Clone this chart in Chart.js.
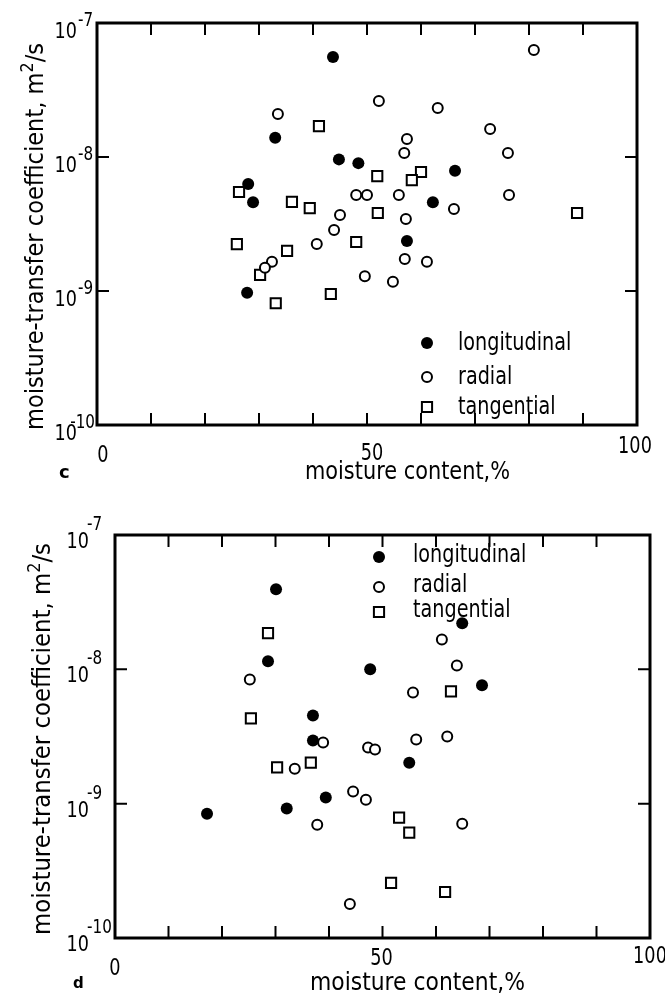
<!DOCTYPE html>
<html lang="en">
<head>
<meta charset="UTF-8">
<title>moisture-transfer coefficient vs moisture content</title>
<script src="https://cdn.jsdelivr.net/npm/chart.js"></script>
<style>
    body { margin: 0; background: #fff; }
    #wrap { position: relative; width: 665px; height: 999px; }
    canvas { position: absolute; left: 0; }
</style>
</head>
<body>
<div id="wrap">
    <canvas id="chartC" width="665" height="495" style="top:0"></canvas>
    <canvas id="chartD" width="665" height="504" style="top:495px"></canvas>
</div>
<script>
// panel c
const cLongX = [43.7, 33.0, 44.8, 48.4, 28.0, 28.9, 66.3, 62.2, 57.4, 27.8];
const cLongY = [5.57e-8, 1.39e-8, 9.6e-9, 9.0e-9, 6.3e-9, 4.6e-9, 7.9e-9, 4.6e-9, 2.36e-9, 9.7e-10];
const cRadX = [33.5, 52.2, 63.1, 80.9, 72.8, 57.4, 56.9, 76.1, 48.0, 50.0, 55.9, 76.3,
               45.0, 66.1, 57.2, 43.9, 40.7, 32.4, 31.1, 57.0, 61.1, 49.6, 54.8];
const cRadY = [2.09e-8, 2.62e-8, 2.32e-8, 6.29e-8, 1.62e-8, 1.36e-8, 1.07e-8, 1.07e-8, 5.2e-9, 5.2e-9, 5.2e-9, 5.2e-9,
               3.69e-9, 4.09e-9, 3.45e-9, 2.85e-9, 2.24e-9, 1.65e-9, 1.49e-9, 1.73e-9, 1.65e-9, 1.29e-9, 1.17e-9];
const cTanX = [26.3, 41.1, 36.1, 39.4, 25.9, 35.2, 30.2, 33.1, 43.3, 51.9, 60.0, 58.3, 52.0, 88.9, 48.0];
const cTanY = [5.48e-9, 1.70e-8, 4.62e-9, 4.16e-9, 2.24e-9, 1.99e-9, 1.32e-9, 8.1e-10, 9.5e-10,
               7.21e-9, 7.73e-9, 6.73e-9, 3.82e-9, 3.82e-9, 2.32e-9];

// panel d
const dLongX = [30.1, 28.6, 37.0, 37.0, 39.4, 32.1, 17.2, 55.0, 64.9, 47.7, 68.6];
const dLongY = [3.95e-8, 1.15e-8, 4.54e-9, 2.95e-9, 1.11e-9, 9.2e-10, 8.4e-10, 2.02e-9, 2.2e-8, 1.0e-8, 7.6e-9];
const dRadX = [25.2, 38.9, 33.6, 37.8, 47.3, 48.6, 56.3, 62.1, 44.5, 46.9, 64.9, 43.9, 61.1, 63.9, 55.7];
const dRadY = [8.4e-9, 2.85e-9, 1.82e-9, 6.97e-10, 2.62e-9, 2.53e-9, 3.0e-9, 3.16e-9, 1.23e-9, 1.07e-9,
               7.1e-10, 1.79e-10, 1.67e-8, 1.07e-8, 6.73e-9];
const dTanX = [28.6, 25.4, 30.3, 36.6, 53.1, 55.0, 51.6, 61.7, 62.8];
const dTanY = [1.86e-8, 4.31e-9, 1.86e-9, 2.02e-9, 7.87e-10, 6.08e-10, 2.57e-10, 2.2e-10, 6.85e-9];

// axes
const seriesNames = ['longitudinal', 'radial', 'tangential'];
const xTickVals = [10, 20, 30, 40, 50, 60, 70, 80, 90];
const xLabelVals = [0, 50, 100];
const yDecades = [-10, -9, -8, -7];
const yInnerTicks = [-9, -8];
const xTitle = 'moisture content,%';
const yTitle = 'moisture-transfer coefficient, m';

const FONT = '"DejaVu Sans", "Liberation Sans", sans-serif';

function pts(xs, ys) { return xs.map((x, i) => ({ x: x, y: ys[i] })); }

// text with horizontal squeeze (reference lettering is narrow)
function drawText(ctx, s, x, y, size, o) {
    o = o || {};
    ctx.save();
    ctx.font = (o.weight || 'normal') + ' ' + size + 'px ' + FONT;
    const w = ctx.measureText(s).width;
    const sx = o.width ? o.width / w : (o.sx || 1);
    ctx.translate(x, y);
    ctx.scale(sx, 1);
    let dx = 0;
    if (o.align === 'center') dx = -w / 2;
    if (o.align === 'right') dx = -w;
    ctx.fillStyle = '#000';
    ctx.textBaseline = 'alphabetic';
    ctx.fillText(s, dx, 0);
    ctx.restore();
    return w * sx;
}

function framePlugin(L) {
    return {
        id: 'frame',
        afterDatasetsDraw(chart) {
            const ctx = chart.ctx;
            const a = chart.chartArea;
            const xs = chart.scales.x, ys = chart.scales.y;
            ctx.save();
            ctx.strokeStyle = '#000';
            ctx.lineWidth = 3;
            ctx.strokeRect(a.left, a.top, a.right - a.left, a.bottom - a.top);

            // inward ticks
            ctx.lineWidth = 2;
            ctx.beginPath();
            xTickVals.forEach(v => {
                const px = xs.getPixelForValue(v);
                ctx.moveTo(px, a.bottom); ctx.lineTo(px, a.bottom - 12);
                ctx.moveTo(px, a.top); ctx.lineTo(px, a.top + 12);
            });
            yInnerTicks.forEach(e => {
                const py = ys.getPixelForValue(Math.pow(10, e));
                ctx.moveTo(a.left, py); ctx.lineTo(a.left + 12, py);
                ctx.moveTo(a.right, py); ctx.lineTo(a.right - 12, py);
            });
            ctx.stroke();

            // y labels 10^n
            yDecades.forEach(e => {
                const py = ys.getPixelForValue(Math.pow(10, e));
                const tenRight = a.left + L.yLab.dx;
                const w = drawText(ctx, '10', tenRight, py + L.yLab.base, 22, { align: 'right', sx: 0.8 });
                ctx.save();
                ctx.font = '19px ' + FONT;
                const sw = ctx.measureText(String(e)).width * 0.8;
                ctx.restore();
                const sxp = Math.min(tenRight + L.yLab.supDx, a.left - 2 - sw);
                drawText(ctx, '-' + Math.abs(e), sxp, py + L.yLab.sup, 19, { sx: 0.8 });
            });

            // x labels
            xLabelVals.forEach((v, i) => {
                const px = xs.getPixelForValue(v) + L.xLab.nudge[i];
                drawText(ctx, String(v), px, a.bottom + L.xLab.base[i], 23, { align: 'center', sx: 0.77 });
            });

            // x title
            drawText(ctx, xTitle, L.xTitle.x1, L.xTitle.base, 24, { width: L.xTitle.x2 - L.xTitle.x1 });

            // y title, rotated, with superscript 2
            ctx.save();
            ctx.translate(L.yTitle.x, L.yTitle.y1);
            ctx.rotate(-Math.PI / 2);
            ctx.font = '24px ' + FONT;
            const w1 = ctx.measureText(yTitle).width;
            const w3 = ctx.measureText('/s').width;
            ctx.font = '17px ' + FONT;
            const w2 = ctx.measureText('2').width;
            const k = (L.yTitle.y1 - L.yTitle.y2) / (w1 + w2 + w3);
            ctx.scale(k, 1);
            ctx.fillStyle = '#000';
            ctx.font = '24px ' + FONT;
            ctx.fillText(yTitle, 0, 0);
            ctx.font = '17px ' + FONT;
            ctx.fillText('2', w1, -10);
            ctx.font = '24px ' + FONT;
            ctx.fillText('/s', w1 + w2, 0);
            ctx.restore();

            // legend from datasets
            chart.data.datasets.forEach((ds, i) => {
                const y = L.legend.ys[i];
                ctx.save();
                ctx.fillStyle = ds.backgroundColor;
                ctx.strokeStyle = ds.borderColor;
                ctx.lineWidth = ds.borderWidth;
                Chart.helpers.drawPoint(ctx, {
                    pointStyle: ds.pointStyle, radius: ds.pointRadius,
                    borderWidth: ds.borderWidth, rotation: 0
                }, L.legend.sx, y);
                ctx.restore();
                drawText(ctx, ds.label, L.legend.tx, y + L.legend.tdy, 24, { sx: 0.8 });
            });

            // panel letter
            drawText(ctx, L.letter.s, L.letter.x, L.letter.y, L.letter.size, { weight: 'bold' });
            ctx.restore();
        }
    };
}

function makePanel(id, lx, ly, rx, ry, tx, ty, L) {
    const ctx = document.getElementById(id).getContext('2d');
    return new Chart(ctx, {
        type: 'scatter',
        data: {
            datasets: [
                { label: seriesNames[0], data: pts(lx, ly), pointStyle: 'circle', pointRadius: 6,
                  backgroundColor: '#000', borderColor: '#000', borderWidth: 0 },
                { label: seriesNames[1], data: pts(rx, ry), pointStyle: 'circle', pointRadius: 5,
                  backgroundColor: '#fff', borderColor: '#000', borderWidth: 2 },
                { label: seriesNames[2], data: pts(tx, ty), pointStyle: 'rect', pointRadius: 7.2,
                  backgroundColor: '#fff', borderColor: '#000', borderWidth: 2 }
            ]
        },
        options: {
            responsive: false,
            animation: false,
            events: [],
            devicePixelRatio: 1,
            layout: { padding: L.pad },
            scales: {
                x: { type: 'linear', min: 0, max: 100, display: false },
                y: { type: 'logarithmic', min: 1e-10, max: 1e-7, display: false }
            },
            plugins: { legend: { display: false }, tooltip: { enabled: false } }
        },
        plugins: [framePlugin(L)]
    });
}

makePanel('chartC', cLongX, cLongY, cRadX, cRadY, cTanX, cTanY, {
    pad: { left: 97, top: 23, right: 28, bottom: 70 },
    yLab: { dx: -20, base: 15, sup: 3, supDx: 1 },
    xLab: { nudge: [6, 5, -2], base: [37, 35, 28] },
    xTitle: { x1: 305, x2: 510, base: 479 },
    yTitle: { x: 43, y1: 430, y2: 43 },
    legend: { sx: 427, tx: 458, ys: [343, 377, 407], tdy: 7 },
    letter: { s: 'c', x: 59, y: 478, size: 18 }
});

makePanel('chartD', dLongX, dLongY, dRadX, dRadY, dTanX, dTanY, {
    pad: { left: 115, top: 40, right: 15, bottom: 61 },
    yLab: { dx: -26, base: 13, sup: -5, supDx: -2 },
    xLab: { nudge: [0, -1, 0], base: [37, 27, 25] },
    xTitle: { x1: 310, x2: 525, base: 495 },
    yTitle: { x: 50, y1: 440, y2: 48 },
    legend: { sx: 379, tx: 413, ys: [62, 92, 117], tdy: 5 },
    letter: { s: 'd', x: 73, y: 493, size: 15 }
});
</script>
</body>
</html>
